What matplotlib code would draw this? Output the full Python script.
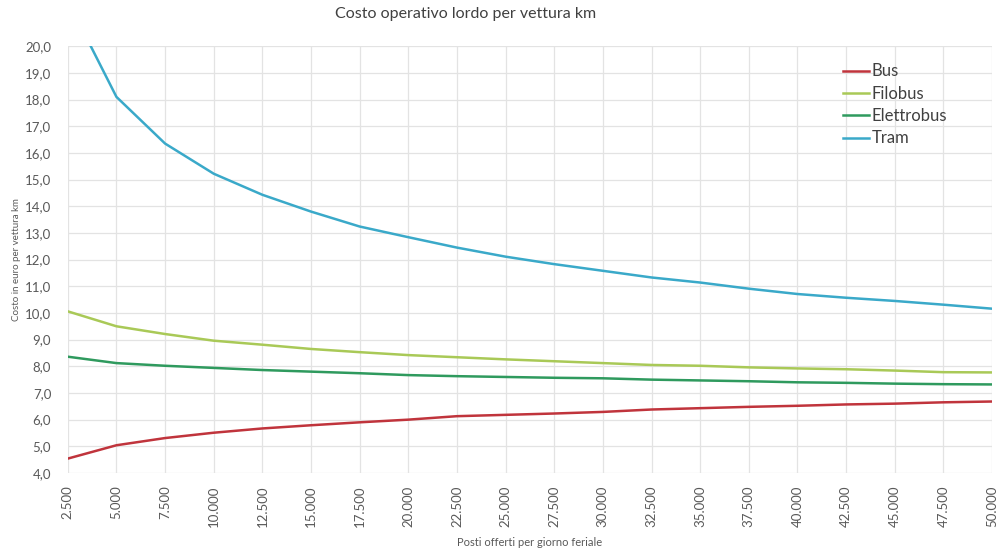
import matplotlib.pyplot as plt
from matplotlib.ticker import FuncFormatter, MultipleLocator

posti = [2500, 5000, 7500, 10000, 12500, 15000, 17500, 20000, 22500, 25000,
         27500, 30000, 32500, 35000, 37500, 40000, 42500, 45000, 47500, 50000]

bus = [4.54, 5.04, 5.31, 5.51, 5.67, 5.79, 5.90, 6.00, 6.13, 6.18,
       6.23, 6.29, 6.38, 6.43, 6.48, 6.52, 6.57, 6.60, 6.65, 6.68]
filobus = [10.06, 9.50, 9.21, 8.96, 8.81, 8.65, 8.53, 8.42, 8.34, 8.26,
           8.19, 8.12, 8.05, 8.02, 7.96, 7.92, 7.89, 7.84, 7.78, 7.77]
elettrobus = [8.36, 8.12, 8.02, 7.94, 7.86, 7.80, 7.74, 7.67, 7.63, 7.60,
              7.57, 7.55, 7.50, 7.47, 7.44, 7.40, 7.38, 7.35, 7.33, 7.32]
tram = [21.7, 18.1, 16.35, 15.22, 14.43, 13.80, 13.24, 12.84, 12.45, 12.11,
        11.83, 11.58, 11.33, 11.14, 10.91, 10.71, 10.57, 10.45, 10.31, 10.16]

series = [("Bus", bus, "#c0343c"),
          ("Filobus", filobus, "#a9c957"),
          ("Elettrobus", elettrobus, "#2f9a5e"),
          ("Tram", tram, "#3aa9c9")]

plt.rcParams["font.family"] = ["Lato", "DejaVu Sans"]

fig = plt.figure(figsize=(9.97, 5.5), dpi=100)
ax = fig.add_axes([0.068, 0.14, 0.927, 0.776])

for name, vals, col in series:
    ax.plot(posti, vals, color=col, lw=1.8, label=name)

ax.set_xlim(2500, 50000)
ax.set_ylim(4, 20)
ax.set_xticks(posti)
ax.xaxis.set_major_formatter(FuncFormatter(lambda v, p: f"{int(v):,}".replace(",", ".")))
ax.yaxis.set_major_locator(MultipleLocator(1))
ax.yaxis.set_major_formatter(FuncFormatter(lambda v, p: f"{v:.1f}".replace(".", ",")))
plt.setp(ax.get_xticklabels(), rotation=90)

ax.tick_params(length=0, labelsize=9.5, colors="#595959")
ax.tick_params(axis="x", pad=9)
ax.tick_params(axis="y", pad=12)
ax.grid(color="#e3e3e3", lw=0.9)
ax.set_axisbelow(True)
for s in ax.spines.values():
    s.set_visible(False)

fig.text(466 / 997, 1 - 14 / 550, "Costo operativo lordo per vettura km",
         fontsize=11.5, color="#404040", ha="center", va="center")
ax.set_xlabel("Posti offerti per giorno feriale", fontsize=8, color="#595959", labelpad=7)
ax.set_ylabel("Costo in euro per vettura km", fontsize=7, color="#595959", labelpad=3)

leg = ax.legend(loc="upper right", bbox_to_anchor=(0.968, 0.995), frameon=False,
                fontsize=12, handlelength=1.6, handletextpad=0.15, labelspacing=0.38)
for t in leg.get_texts():
    t.set_color("#404040")

fig.savefig("out.png", dpi=100)
